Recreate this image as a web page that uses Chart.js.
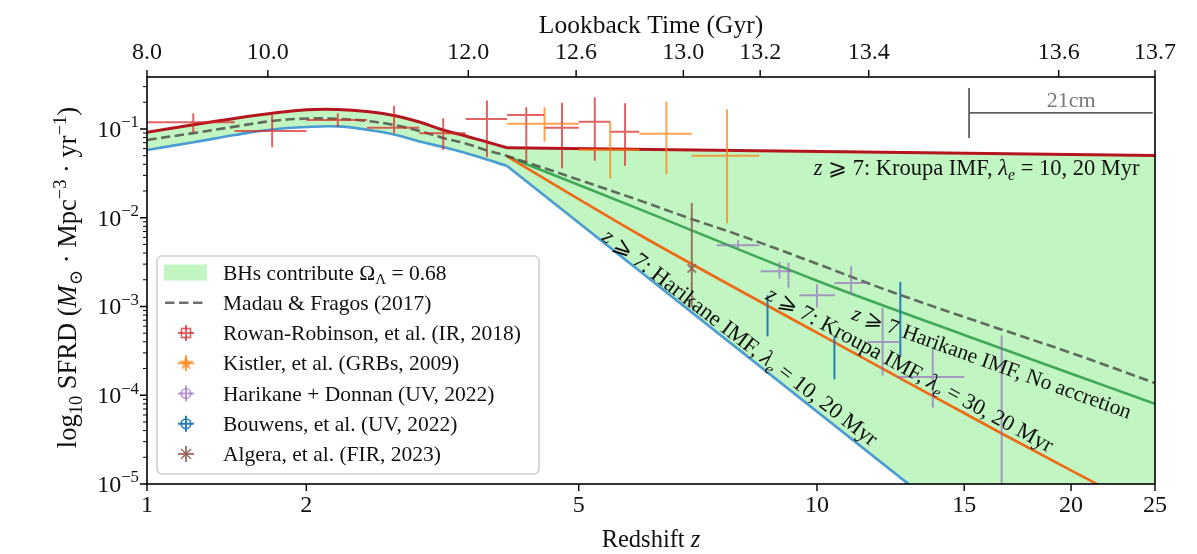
<!DOCTYPE html>
<html><head><meta charset="utf-8">
<script src="https://cdn.jsdelivr.net/npm/chart.js@4.4.1/dist/chart.umd.min.js"></script>
<style>html,body{margin:0;padding:0;background:#fff;overflow:hidden}</style>
</head><body>
<canvas id="c" width="1197" height="554"></canvas>
<script>
// ---------------- data ----------------
// redshift samples of the smooth part (z <= 4)
const zCurve = [1,1.25,1.5,1.75,2,2.25,2.5,2.75,3,3.25,3.5,3.75,4];
const upperCurve = [0.0918,0.1115,0.1314,0.150,0.1647,0.166,0.1576,0.142,0.120,0.0974,0.0834,0.0713,0.0615];
const lowerCurve = [0.0579,0.0708,0.0856,0.0987,0.1053,0.1067,0.098,0.0867,0.0723,0.0627,0.0536,0.0453,0.0382];
// z >= 4 branches
const zTail = [4,25];
const upperTail = [0.0615,0.0502];   // Kroupa IMF, lambda_e = 10, 20 Myr
const lowerTail = [0.0382,6.3e-8];   // Harikane IMF, lambda_e = 10, 20 Myr
const zMadau = [1,1.25,1.5,1.75,2,2.25,2.5,2.75,3,3.25,3.5,3.75,4,5,6,7,8,10,12,15,20,25];
const madau = [0.0752,0.0897,0.1062,0.1231,0.131,0.1303,0.1231,0.111,0.0949,0.0791,0.0686,0.0572,0.0496,0.0268,0.01568,0.00964,0.00644,0.00303,0.00159,7.61e-4,3.0e-4,1.37e-4];
const zKroupa30 = [4,6,10,16.5,25];
const kroupa30 = [0.049,0.00643,5.07e-4,3.83e-5,4.52e-6];
const zNoAcc = [4,6,10,15,25];
const noAcc = [0.049,0.0125,0.00195,4.78e-4,8.0e-5];

// observations: centre, z-range, value, value-range
const rrZ   = [1.25,1.75,2.25,2.75,3.25,3.75,4.25,4.75,5.25,5.75];
const rrZlo = [1.0,1.5,2.0,2.5,3.0,3.5,4.0,4.5,5.0,5.5];
const rrZhi = [1.5,2.0,2.5,3.0,3.5,4.0,4.5,5.0,5.5,6.0];
const rrV   = [0.119,0.0949,0.1265,0.1034,0.0894,0.1297,0.1439,0.1035,0.1209,0.0932];
const rrVlo = [0.0908,0.0622,0.106,0.0894,0.0579,0.0479,0.0428,0.036,0.0439,0.0385];
const rrVhi = [0.1504,0.144,0.1504,0.1818,0.132,0.2086,0.1757,0.198,0.228,0.195];

const kiZ   = [4.5,5.5,6.5,7.75];
const kiZlo = [4.0,5.0,6.0,7.0];
const kiZhi = [5.0,6.0,7.0,8.5];
const kiV   = [0.1148,0.0585,0.0885,0.050];
const kiVlo = [0.0719,0.0278,0.0308,0.00863];
const kiVhi = [0.1757,0.1209,0.2033,0.1668];

const hdZ   = [8.0,9.0,9.23,10.0,11.0,12.0,13.77,16.6];
const hdZlo = [7.52,8.53,9.23,9.52,10.5,11.5,12.5,16.6];
const hdZhi = [8.5,9.32,9.23,10.52,11.49,12.55,15.0,16.6];
const hdV   = [0.00491,0.0025,0.00228,0.00134,0.00184,3.97e-4,1.6e-4,7e-5];
const hdVlo = [0.0045,0.00207,0.00163,9.72e-4,0.00134,1.67e-4,7.23e-5,3e-6];
const hdVhi = [0.00559,0.00318,0.00313,0.00178,0.00284,9.67e-4,3.53e-4,4.73e-4];

const bwZ   = [8.7,10.5,12.6];
const bwV   = [7.85e-4,2.64e-4,7.18e-4];
const bwVlo = [4.61e-4,1.51e-4,2.69e-4];
const bwVhi = [0.00134,4.61e-4,0.00189];

const alZ   = [7.0];
const alV   = [0.00268];
const alVlo = [9.87e-4];
const alVhi = [0.0147];

// axes
const zTicks = [1,2,5,10,15,20,25];
const zTickLabels = ['1','2','5','10','15','20','25'];
const lookbackZ = [1.0,1.72,3.53,4.96,6.83,8.52,11.55,19.35,25.0];
const lookbackLabels = ['8.0','10.0','12.0','12.6','13.0','13.2','13.4','13.6','13.7'];
const yExponents = [-5,-4,-3,-2,-1];

// ---------------- helpers ----------------
const pts = (zs, vs) => zs.map((z,i)=>({x:1+z, y:vs[i]}));
const serif = '"Liberation Serif","DejaVu Serif","DejaVu Sans",serif';
function fnt(size, it){ return (it?'italic ':'') + size.toFixed(1) + 'px ' + serif; }
function richWidth(ctx, segs, size){
  let w=0;
  for(const s of segs){ const sz=(s.sub||s.sup)?size*0.7:size; ctx.font=fnt(sz,s.it); w+=ctx.measureText(s.t).width; }
  return w;
}
function drawRich(ctx, segs, size, x, y){
  let cx=x;
  for(const s of segs){
    const sz=(s.sub||s.sup)?size*0.7:size; ctx.font=fnt(sz,s.it);
    let dy=0; if(s.sub) dy=size*0.22; if(s.sup) dy=-size*0.4;
    ctx.fillText(s.t, cx, y+dy); cx+=ctx.measureText(s.t).width;
  }
  return cx;
}
function richCentered(ctx, segs, size, cx, cy, angDeg){
  ctx.save(); ctx.translate(cx,cy); ctx.rotate(angDeg*Math.PI/180);
  ctx.textAlign='left'; ctx.textBaseline='alphabetic';
  const w=richWidth(ctx,segs,size);
  drawRich(ctx,segs,size,-w/2,size*0.32);
  ctx.restore();
}

const RED='#b3161e', BLUE='#4a9cd2', GREEN='#3fa958', ORANGE='#ee6a17';
const DASH='rgba(55,55,55,0.72)';
const FILL='rgba(144,238,144,0.56)';

const errSeries = [
  {label:'Rowan-Robinson, et al. (IR, 2018)', color:'rgba(214,39,40,0.72)', solid:'#d62728', marker:'square', z:rrZ, zlo:rrZlo, zhi:rrZhi, v:rrV, vlo:rrVlo, vhi:rrVhi},
  {label:'Kistler, et al. (GRBs, 2009)', color:'rgba(255,127,14,0.72)', solid:'#ff7f0e', marker:'star', z:kiZ, zlo:kiZlo, zhi:kiZhi, v:kiV, vlo:kiVlo, vhi:kiVhi},
  {label:'Harikane + Donnan (UV, 2022)', color:'rgba(148,103,189,0.65)', solid:'#9467bd', marker:'circle', z:hdZ, zlo:hdZlo, zhi:hdZhi, v:hdV, vlo:hdVlo, vhi:hdVhi},
  {label:'Bouwens, et al. (UV, 2022)', color:'rgba(31,119,180,0.95)', solid:'#1f77b4', marker:'circle', z:bwZ, zlo:bwZ, zhi:bwZ, v:bwV, vlo:bwVlo, vhi:bwVhi},
  {label:'Algera, et al. (FIR, 2023)', color:'rgba(140,86,75,0.8)', solid:'#8c564b', marker:'x', z:alZ, zlo:alZ, zhi:alZ, v:alV, vlo:alVlo, vhi:alVhi, showMarker:true}
];

const datasets = [
  {label:'upperA', data:pts(zCurve,upperCurve), borderColor:RED, borderWidth:3, fill:{target:1}, backgroundColor:FILL, tension:0.4, order:3},
  {label:'lowerA', data:pts(zCurve,lowerCurve), borderColor:BLUE, borderWidth:2.7, fill:false, tension:0.4, order:4},
  {label:'upperB', data:pts(zTail,upperTail), borderColor:RED, borderWidth:3, fill:{target:3}, backgroundColor:FILL, order:3},
  {label:'lowerB', data:pts(zTail,lowerTail), borderColor:BLUE, borderWidth:2.7, fill:false, order:4},
  {label:'Kroupa30', data:pts(zKroupa30,kroupa30), borderColor:ORANGE, borderWidth:2.6, fill:false, tension:0.3, order:2},
  {label:'NoAccretion', data:pts(zNoAcc,noAcc), borderColor:GREEN, borderWidth:2.6, fill:false, tension:0.3, order:2},
  {label:'Madau & Fragos (2017)', data:pts(zMadau,madau), borderColor:DASH, borderWidth:2.6, borderDash:[9.5,4.5], fill:false, tension:0.35, order:1},
];
errSeries.forEach((s)=>{
  datasets.push({label:s.label, data:pts(s.z,s.v), showLine:false, borderColor:s.solid, backgroundColor:s.solid,
    pointRadius: s.showMarker?6:0, pointStyle:'crossRot', pointBorderWidth:1.8, pointBorderColor:s.color, order:0, err:s});
});

function drawMarker(ctx, kind, x, y, color){
  ctx.save(); ctx.strokeStyle=color; ctx.fillStyle=color; ctx.lineWidth=1.6;
  if(kind==='square'){ ctx.strokeRect(x-4.5,y-4.5,9,9); }
  else if(kind==='circle'){ ctx.beginPath(); ctx.arc(x,y,4.8,0,Math.PI*2); ctx.stroke(); }
  else if(kind==='star'){
    ctx.beginPath();
    for(let i=0;i<10;i++){ const r=i%2?3.4:8; const a=-Math.PI/2+i*Math.PI/5; ctx.lineTo(x+r*Math.cos(a), y+r*Math.sin(a)); }
    ctx.closePath(); ctx.globalAlpha=0.85; ctx.fill();
  } else if(kind==='x'){
    ctx.beginPath(); ctx.moveTo(x-5,y-5); ctx.lineTo(x+5,y+5); ctx.moveTo(x+5,y-5); ctx.lineTo(x-5,y+5); ctx.stroke();
  }
  ctx.restore();
}

const decor = {
  id:'decor',
  afterDatasetsDraw(chart){
    const ctx=chart.ctx, a=chart.chartArea, xs=chart.scales.x, ys=chart.scales.y;
    const X=z=>xs.getPixelForValue(1+z), Y=v=>ys.getPixelForValue(v);
    // error bars
    ctx.save(); ctx.beginPath(); ctx.rect(a.left,a.top,a.right-a.left,a.bottom-a.top); ctx.clip();
    chart.data.datasets.forEach(ds=>{
      const s=ds.err; if(!s) return;
      ctx.strokeStyle=s.color; ctx.lineWidth=2;
      s.z.forEach((z,i)=>{
        const px=X(z), py=Y(s.v[i]);
        ctx.beginPath();
        if(s.zhi[i]!==s.zlo[i]){ ctx.moveTo(X(s.zlo[i]),py); ctx.lineTo(X(s.zhi[i]),py); }
        ctx.moveTo(px,Y(s.vhi[i])); ctx.lineTo(px,Y(s.vlo[i]));
        ctx.stroke();
      });
    });
    // 21cm scale bar
    ctx.strokeStyle='#606060'; ctx.lineWidth=1.8;
    ctx.beginPath(); ctx.moveTo(X(15.2),Y(0.29)); ctx.lineTo(X(15.2),Y(0.079));
    ctx.moveTo(X(15.2),Y(0.152)); ctx.lineTo(X(24.85),Y(0.152)); ctx.stroke();
    ctx.fillStyle='#7a7a7a'; ctx.font=fnt(22,false); ctx.textAlign='center'; ctx.textBaseline='middle';
    ctx.fillText('21cm', X(20.0), Y(0.205));
    // annotations
    ctx.fillStyle='#111';
    const ge=' \u2A7E 7';
    const t1=[{t:'z',it:true},{t:ge+': Kroupa IMF, '},{t:'\u03BB',it:true},{t:'e',it:true,sub:true},{t:' = 10, 20 Myr'}];
    const w1=richWidth(ctx,t1,22.5);
    ctx.textAlign='left'; ctx.textBaseline='alphabetic';
    drawRich(ctx,t1,22.5,X(24.0)-w1,Y(0.0363)+7);
    richCentered(ctx,[{t:'z',it:true},{t:ge+': Harikane IMF, '},{t:'\u03BB',it:true},{t:'e',it:true,sub:true},{t:' = 10, 20 Myr'}],22.5,X(8.05),Y(4.49e-4),37.5);
    richCentered(ctx,[{t:'z',it:true},{t:ge+': Kroupa IMF, '},{t:'\u03BB',it:true},{t:'e',it:true,sub:true},{t:' = 30, 20 Myr'}],22.3,X(12.94),Y(1.95e-4),28.5);
    richCentered(ctx,[{t:'z',it:true},{t:ge+' Harikane IMF, No accretion'}],21.5,X(16.17),Y(2.34e-4),19.8);
    ctx.restore();

    // frame
    ctx.save(); ctx.strokeStyle='#000'; ctx.lineWidth=1.6;
    ctx.strokeRect(a.left,a.top,a.right-a.left,a.bottom-a.top);
    // ticks
    ctx.lineWidth=1.4; ctx.beginPath();
    zTicks.forEach(z=>{ const x=X(z); ctx.moveTo(x,a.bottom); ctx.lineTo(x,a.bottom+7); });
    lookbackZ.forEach(z=>{ const x=X(z); ctx.moveTo(x,a.top); ctx.lineTo(x,a.top-7); });
    yExponents.forEach(e=>{ const y=Y(Math.pow(10,e)); ctx.moveTo(a.left,y); ctx.lineTo(a.left-7,y); });
    ctx.stroke();
    ctx.lineWidth=1; ctx.beginPath();
    yExponents.forEach(e=>{ for(let m=2;m<=9;m++){ const v=m*Math.pow(10,e); if(v>ys.max) continue; const y=Y(v); ctx.moveTo(a.left,y); ctx.lineTo(a.left-4,y);} });
    ctx.stroke();
    // tick labels
    ctx.fillStyle='#111'; ctx.font=fnt(24,false); ctx.textAlign='center'; ctx.textBaseline='middle';
    zTicks.forEach((z,i)=>ctx.fillText(zTickLabels[i], X(z), a.bottom+22));
    lookbackZ.forEach((z,i)=>ctx.fillText(lookbackLabels[i], X(z), a.top-24.5));
    ctx.textAlign='left'; ctx.textBaseline='alphabetic';
    yExponents.forEach(e=>{
      const segs=[{t:'10'},{t:'\u2212'+Math.abs(e),sup:true}];
      const w=richWidth(ctx,segs,24);
      drawRich(ctx,segs,24,139-w,Y(Math.pow(10,e))+8);
    });
    // axis titles
    ctx.textAlign='left';
    const tb=[{t:'Redshift '},{t:'z',it:true}];
    let w=richWidth(ctx,tb,24.5); drawRich(ctx,tb,24.5,(a.left+a.right)/2-w/2,a.bottom+63);
    const tt=[{t:'Lookback Time (Gyr)'}];
    w=richWidth(ctx,tt,25.5); drawRich(ctx,tt,25.5,(a.left+a.right)/2-w/2,33);
    richCentered(ctx,[{t:'log'},{t:'10',sub:true},{t:' SFRD ('},{t:'M',it:true},{t:'\u2299',sub:true},{t:' \u00B7 Mpc'},{t:'\u22123',sup:true},{t:' \u00B7 yr'},{t:'\u22121',sup:true},{t:')'}],26.5,68,(a.top+a.bottom)/2-3,-90);
    ctx.restore();

    // legend
    ctx.save();
    const L=157,T=256,R=539,B=474,rad=5;
    ctx.beginPath(); ctx.roundRect(L,T,R-L,B-T,rad);
    ctx.fillStyle='rgba(255,255,255,0.85)'; ctx.fill();
    ctx.strokeStyle='#cfcfcf'; ctx.lineWidth=1.6; ctx.stroke();
    const rows=[272.5,302.75,333,363.25,393.5,423.75,454];
    const hx=186, tx=223;
    ctx.fillStyle=FILL; ctx.fillRect(164,rows[0]-8,43,16);
    ctx.strokeStyle=DASH; ctx.lineWidth=2.6; ctx.setLineDash([9.5,4.5]);
    ctx.beginPath(); ctx.moveTo(165,rows[1]); ctx.lineTo(207,rows[1]); ctx.stroke(); ctx.setLineDash([]);
    errSeries.forEach((s,i)=>{
      const y=rows[i+2];
      ctx.strokeStyle=s.color; ctx.lineWidth=2;
      ctx.beginPath(); ctx.moveTo(hx-8,y); ctx.lineTo(hx+8,y); ctx.moveTo(hx,y-8); ctx.lineTo(hx,y+8); ctx.stroke();
      drawMarker(ctx,s.marker,hx,y,s.color);
    });
    ctx.fillStyle='#111'; ctx.textAlign='left'; ctx.textBaseline='alphabetic';
    const labels=[[{t:'BHs contribute \u03A9'},{t:'\u039B',sub:true},{t:' = 0.68'}],[{t:'Madau & Fragos (2017)'}]].concat(errSeries.map(s=>[{t:s.label}]));
    labels.forEach((segs,i)=>drawRich(ctx,segs,21.5,tx,rows[i]+7));
    ctx.restore();
  }
};

new Chart(document.getElementById('c'), {
  type:'line',
  data:{datasets},
  options:{
    responsive:false, animation:false, devicePixelRatio:1,
    layout:{padding:{left:0,right:42,top:0,bottom:0}},
    plugins:{legend:{display:false}, tooltip:{enabled:false}, filler:{propagate:false, drawTime:'beforeDatasetsDraw'}},
    elements:{point:{radius:0}},
    scales:{
      x:{type:'logarithmic', position:'bottom', min:2, max:26, bounds:'data', grid:{display:false}, border:{display:false}, ticks:{display:false}, afterFit(s){s.height=70;}},
      xTop:{type:'logarithmic', position:'top', min:2, max:26, bounds:'data', grid:{display:false}, border:{display:false}, ticks:{display:false}, afterFit(s){s.height=77;}},
      y:{type:'logarithmic', min:1e-5, max:0.385, bounds:'data', grid:{display:false}, border:{display:false}, ticks:{display:false}, afterFit(s){s.width=147;}}
    }
  },
  plugins:[decor]
});
</script>
</body></html>
